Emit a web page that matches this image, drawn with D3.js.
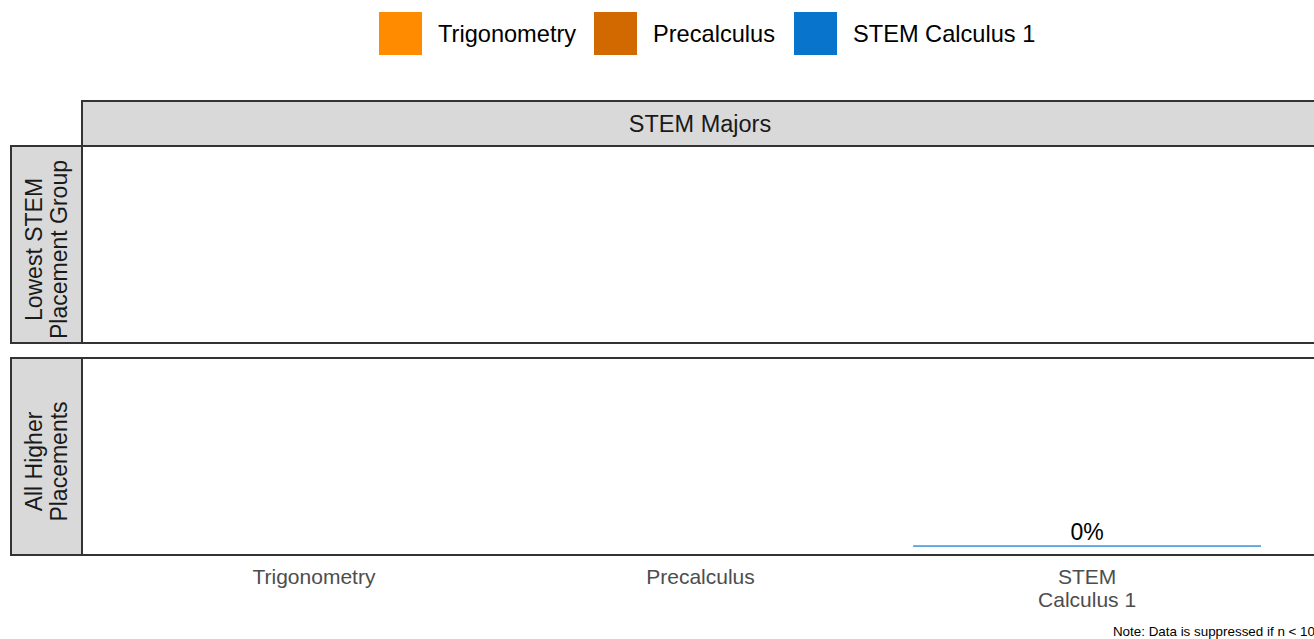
<!DOCTYPE html>
<html>
<head>
<meta charset="utf-8">
<script src="https://cdn.jsdelivr.net/npm/d3@7"></script>
<style>
  body { margin: 0; background: #fff; }
  svg { display: block; font-family: "Liberation Sans", Arial, sans-serif; }
</style>
</head>
<body>
<script>
// categories on the x axis (also the legend)
var categories = ["Trigonometry", "Precalculus", "STEM Calculus 1"];
var axisLabels = [["Trigonometry"], ["Precalculus"], ["STEM", "Calculus 1"]];
var colors = ["#FF8C00", "#D26900", "#0874CC"];

// facet rows
var rowLabels = [["Lowest STEM", "Placement Group"], ["All Higher", "Placements"]];
var columnLabel = "STEM Majors";

// values per row (null = suppressed, n < 10)
var lowestValues = [null, null, null];
var higherValues = [null, null, 0];
var rowValues = [lowestValues, higherValues];

var width = 1314,
    height = 639,
    panelLeft = 82,
    panelRight = 1319,
    stripLeft = 11,
    headerTop = 101,
    headerBottom = 146,
    panelHeight = 197,
    panelTops = [146, 358];

var svg = d3.select("body")
    .append("svg")
    .attr("width", width)
    .attr("height", height);

// x scale: band, ggplot-like expansion
var xScale = d3.scaleBand()
    .domain(categories)
    .range([panelLeft, panelRight])
    .paddingInner(0.1)
    .paddingOuter(0.15);

var colorScale = d3.scaleOrdinal()
    .domain(categories)
    .range(colors);

// legend
var legendX = [379, 594, 794];
var legend = svg.append("g").attr("class", "legend");
categories.forEach(function(c, i) {
    legend.append("rect")
        .attr("x", legendX[i])
        .attr("y", 12)
        .attr("width", 43)
        .attr("height", 43)
        .attr("fill", colorScale(c));
    legend.append("text")
        .attr("x", legendX[i] + 59)
        .attr("y", 41.5)
        .style("font-size", "23.6px")
        .attr("fill", "#000")
        .text(c);
});

// column strip
svg.append("rect")
    .attr("x", panelLeft)
    .attr("y", headerTop)
    .attr("width", panelRight - panelLeft + 10)
    .attr("height", headerBottom - headerTop)
    .attr("fill", "#d9d9d9")
    .attr("stroke", "#333")
    .attr("stroke-width", 2);
svg.append("text")
    .attr("x", 700)
    .attr("y", 132)
    .attr("text-anchor", "middle")
    .style("font-size", "23.5px")
    .attr("fill", "#1a1a1a")
    .text(columnLabel);

// panels
rowValues.forEach(function(vals, r) {
    var top = panelTops[r];
    var bottom = top + panelHeight;

    var yScale = d3.scaleLinear()
        .domain([-0.05, 1.05])
        .range([bottom, top]);

    var g = svg.append("g");

    g.append("rect")
        .attr("x", panelLeft)
        .attr("y", top)
        .attr("width", panelRight - panelLeft + 10)
        .attr("height", panelHeight)
        .attr("fill", "#fff")
        .attr("stroke", "#333")
        .attr("stroke-width", 2);

    // row strip
    g.append("rect")
        .attr("x", stripLeft)
        .attr("y", top)
        .attr("width", panelLeft - stripLeft)
        .attr("height", panelHeight)
        .attr("fill", "#d9d9d9")
        .attr("stroke", "#333")
        .attr("stroke-width", 2);

    var cy = top + panelHeight / 2;
    var lines = rowLabels[r];
    var label = g.append("text")
        .attr("transform", "translate(" + 46 + "," + cy + ") rotate(-90)")
        .attr("text-anchor", "middle")
        .style("font-size", "23px")
        .attr("fill", "#1a1a1a");
    lines.forEach(function(l, k) {
        label.append("tspan")
            .attr("x", -5)
            .attr("y", (k - (lines.length - 1) / 2) * 25 + 8)
            .text(l);
    });

    // bars (a zero value still shows as a thin line)
    var data = categories.map(function(c, i) { return {cat: c, value: vals[i]}; })
        .filter(function(d) { return d.value !== null; });

    g.selectAll("rect.bar")
        .data(data)
        .enter()
        .append("rect")
            .attr("class", "bar")
            .attr("x", function(d) { return xScale(d.cat); })
            .attr("y", function(d) { return Math.min(yScale(d.value), yScale(0) - 0.6); })
            .attr("width", xScale.bandwidth())
            .attr("height", function(d) { return Math.max(1.2, yScale(0) - yScale(d.value)); })
            .attr("fill", function(d) { return colorScale(d.cat); });

    g.selectAll("text.val")
        .data(data)
        .enter()
        .append("text")
            .attr("class", "val")
            .attr("x", function(d) { return xScale(d.cat) + xScale.bandwidth() / 2; })
            .attr("y", function(d) { return yScale(d.value) - 6; })
            .attr("text-anchor", "middle")
            .style("font-size", "23px")
            .attr("fill", "#000")
            .text(function(d) { return Math.round(d.value * 100) + "%"; });
});

// x axis labels
var xAxis = svg.append("g");
categories.forEach(function(c, i) {
    var t = xAxis.append("text")
        .attr("text-anchor", "middle")
        .style("font-size", "21px")
        .attr("fill", "#4d4d4d");
    axisLabels[i].forEach(function(l, k) {
        t.append("tspan")
            .attr("x", xScale(c) + xScale.bandwidth() / 2)
            .attr("y", 584 + k * 23)
            .text(l);
    });
});

// note
svg.append("text")
    .attr("x", 1315)
    .attr("y", 636)
    .attr("text-anchor", "end")
    .style("font-size", "13.4px")
    .attr("fill", "#000")
    .text("Note: Data is suppressed if n < 10");
</script>
</body>
</html>
